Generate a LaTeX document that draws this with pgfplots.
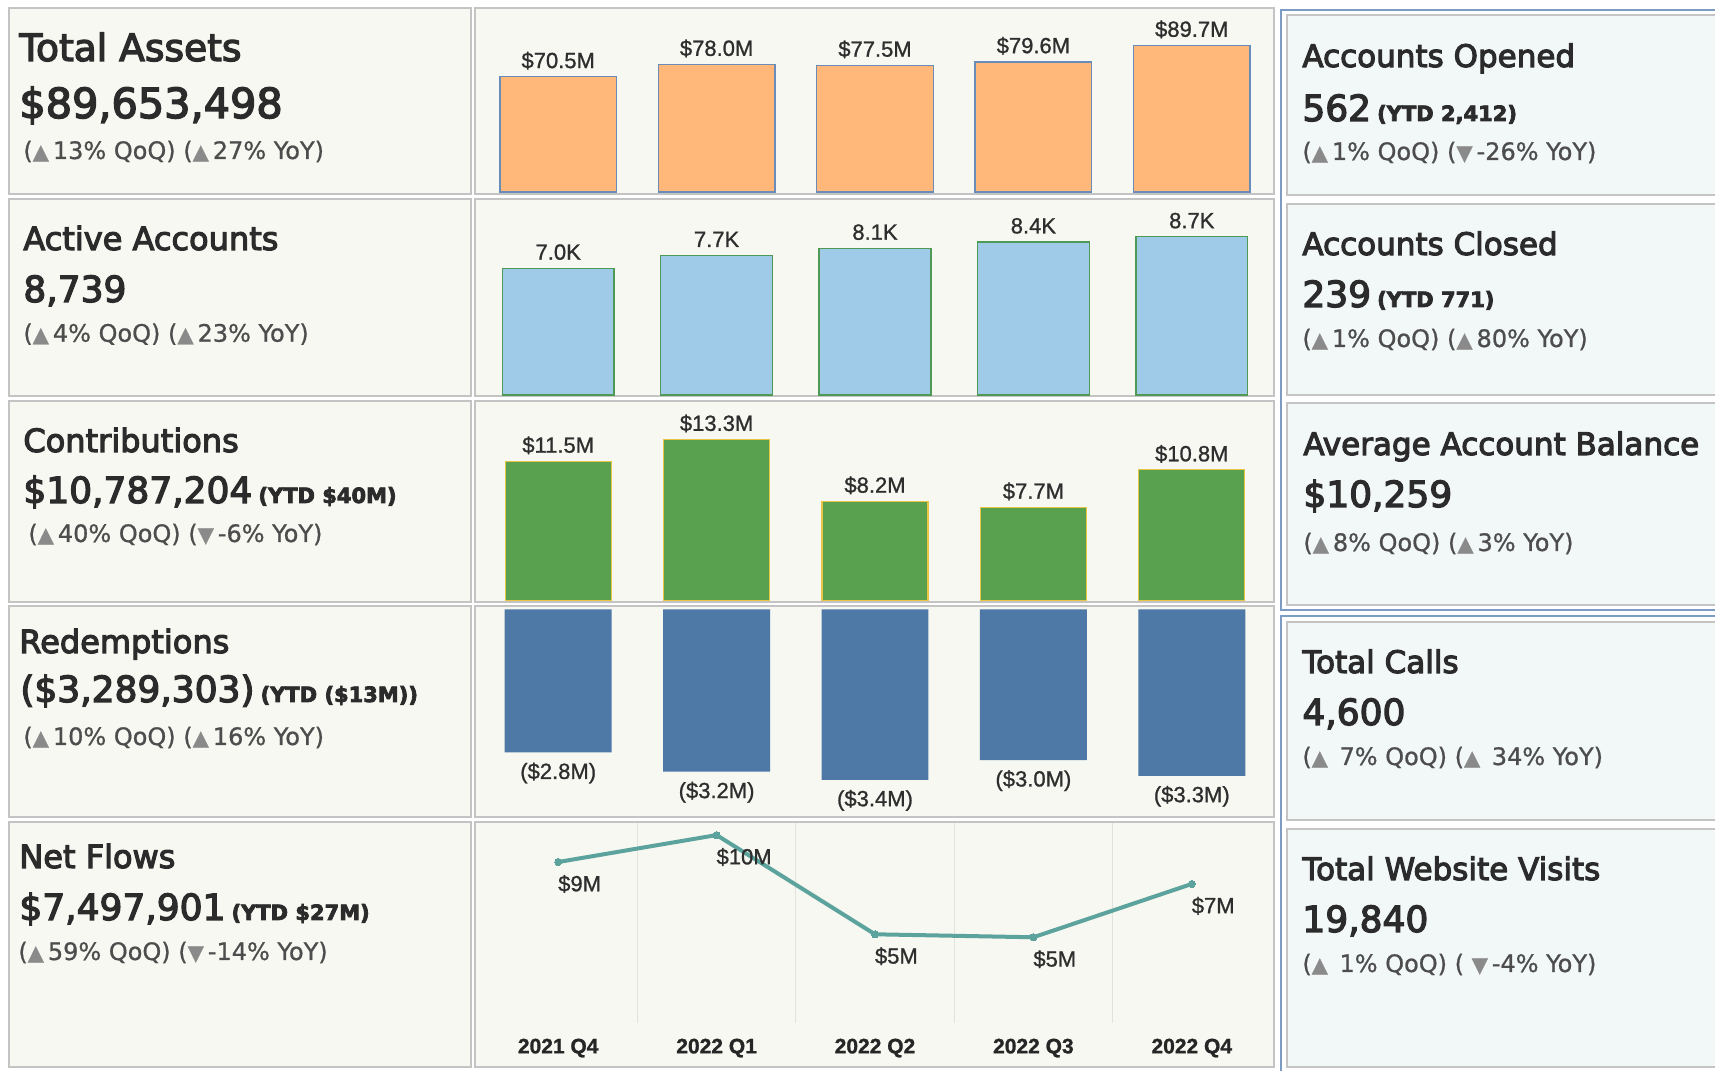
\documentclass[border=0pt]{standalone}
\usepackage{pgfplots}
\pgfplotsset{compat=1.18}
\usepackage{fontspec}
\setmainfont{DejaVu Sans}
\newfontfamily\tfont{DejaVu Sans}[FakeBold=3.5]
\newfontfamily\nfont{DejaVu Sans}[FakeBold=3.5]
\newfontfamily\cfont{DejaVu Sans}[FakeBold=0.8]
\newfontfamily\lab{Liberation Sans}[FakeBold=1]

\definecolor{leftbg}{HTML}{F6F8F1}
\definecolor{rightbg}{HTML}{F2F7F7}
\definecolor{bord}{HTML}{C4C4C4}
\definecolor{blueb}{HTML}{7D9CC4}
\definecolor{gridc}{HTML}{E2E4DC}
\definecolor{orfill}{HTML}{FFB879}
\definecolor{orline}{HTML}{6A8CB8}
\definecolor{lbfill}{HTML}{A0CBE8}
\definecolor{lbline}{HTML}{4E9A55}
\definecolor{grfill}{HTML}{59A14F}
\definecolor{grline}{HTML}{E8C547}
\definecolor{rdfill}{HTML}{4E79A7}
\definecolor{teal}{HTML}{5DA39D}
\definecolor{titc}{HTML}{2B2B2B}
\definecolor{chgc}{HTML}{4D4D4D}
\definecolor{trig}{HTML}{8A8A8A}
\definecolor{labc}{HTML}{2E2E2E}

\newcommand{\up}{{\color{trig}\fontsize{10.5pt}{10pt}\selectfont ▲}}
\newcommand{\dn}{{\color{trig}\fontsize{10.5pt}{10pt}\selectfont ▼}}
\newcommand{\ytd}[1]{\hspace{3pt}{\bfseries\fontsize{10.5pt}{12pt}\selectfont #1}}

\pgfplotsset{
  panel/.style={
    anchor=south west, scale only axis, width=396pt,
    xmin=-0.5, xmax=4.5,
    axis line style={draw=none},
    ytick=\empty, xtick=\empty,
    minor xtick={0.5,1.5,2.5,3.5},
    xminorgrids=true,
    minor grid style={draw=gridc, line width=0.6pt},
    major tick length=0pt, minor tick length=0pt,
    clip=false,
  },
  barlab/.style={
    nodes near coords,
    point meta=explicit symbolic,
    nodes near coords style={font=\lab\fontsize{11pt}{12pt}\selectfont, text=labc, inner sep=0pt, anchor=base, yshift=4.3pt},
  },
}

\begin{document}
\begin{tikzpicture}
\useasboundingbox (0,0) rectangle (857.5pt,535.5pt);
\fill[white] (0,0) rectangle (857.5pt,535.5pt);
\begin{scope}[x=0.5pt,y=-0.5pt,yshift=535.5pt]
  % left panels
  \foreach \a/\b in {8/194,199/396,401/602,606/817,822/1067}{
    \filldraw[fill=leftbg,draw=bord,line width=0.75pt] (9,\a) rectangle (471,\b);
    \filldraw[fill=leftbg,draw=bord,line width=0.75pt] (475,\a) rectangle (1274,\b);
  }
  % right groups
  \draw[blueb,line width=1.1pt] (1281,10) rectangle (1720,610);
  \draw[blueb,line width=1.1pt] (1281,616) rectangle (1720,1080);
  \foreach \a/\b in {15/195,204/395,403/605,622/820,829/1067}{
    \filldraw[fill=rightbg,draw=bord,line width=0.75pt] (1287,\a) rectangle (1722,\b);
  }
  % left texts
  \begin{scope}[every node/.style={anchor=base west, inner sep=0pt, text=titc}]
  \node[font=\tfont\fontsize{18.8pt}{20pt}\selectfont] at (19,61) {Total Assets};
  \node[font=\nfont\fontsize{20.7pt}{22pt}\selectfont] at (19,118) {\$89,653,498};
  \node[font=\cfont\fontsize{12pt}{13pt}\selectfont, text=chgc] at (23,159) {(\up\,13\% QoQ) (\up\,27\% YoY)};

  \node[font=\tfont\fontsize{16pt}{18pt}\selectfont] at (23,250) {Active Accounts};
  \node[font=\nfont\fontsize{18pt}{20pt}\selectfont] at (23,302) {8,739};
  \node[font=\cfont\fontsize{12pt}{13pt}\selectfont, text=chgc] at (23,341.7) {(\up\,4\% QoQ) (\up\,23\% YoY)};

  \node[font=\tfont\fontsize{16pt}{18pt}\selectfont] at (23,452) {Contributions};
  \node[font=\nfont\fontsize{18pt}{20pt}\selectfont] at (23,503) {\$10,787,204\ytd{(YTD \$40M)}};
  \node[font=\cfont\fontsize{12pt}{13pt}\selectfont, text=chgc] at (28,542) {(\up\,40\% QoQ) (\dn\,-6\% YoY)};

  \node[font=\tfont\fontsize{16pt}{18pt}\selectfont] at (19,653) {Redemptions};
  \node[font=\nfont\fontsize{18pt}{20pt}\selectfont] at (20,702) {(\$3,289,303)\ytd{(YTD (\$13M))}};
  \node[font=\cfont\fontsize{12pt}{13pt}\selectfont, text=chgc] at (23,745) {(\up\,10\% QoQ) (\up\,16\% YoY)};

  \node[font=\tfont\fontsize{16pt}{18pt}\selectfont] at (19,868) {Net Flows};
  \node[font=\nfont\fontsize{18pt}{20pt}\selectfont] at (19,920) {\$7,497,901\ytd{(YTD \$27M)}};
  \node[font=\cfont\fontsize{12pt}{13pt}\selectfont, text=chgc] at (18,960) {(\up\,59\% QoQ) (\dn\,-14\% YoY)};

  % right texts
  \node[font=\tfont\fontsize{15.5pt}{18pt}\selectfont] at (1302,67) {Accounts Opened};
  \node[font=\nfont\fontsize{18pt}{20pt}\selectfont] at (1302,121) {562\ytd{(YTD 2,412)}};
  \node[font=\cfont\fontsize{12pt}{13pt}\selectfont, text=chgc] at (1302,160) {(\up\,1\% QoQ) (\dn\,-26\% YoY)};

  \node[font=\tfont\fontsize{15.5pt}{18pt}\selectfont] at (1302,255) {Accounts Closed};
  \node[font=\nfont\fontsize{18pt}{20pt}\selectfont] at (1302,307) {239\ytd{(YTD 771)}};
  \node[font=\cfont\fontsize{12pt}{13pt}\selectfont, text=chgc] at (1302,347) {(\up\,1\% QoQ) (\up\,80\% YoY)};

  \node[font=\tfont\fontsize{15.5pt}{18pt}\selectfont] at (1303,455) {Average Account Balance};
  \node[font=\nfont\fontsize{18pt}{20pt}\selectfont] at (1303,507) {\$10,259};
  \node[font=\cfont\fontsize{12pt}{13pt}\selectfont, text=chgc] at (1303,551) {(\up\,8\% QoQ) (\up\,3\% YoY)};

  \node[font=\tfont\fontsize{15.5pt}{18pt}\selectfont] at (1302,673) {Total Calls};
  \node[font=\nfont\fontsize{18pt}{20pt}\selectfont] at (1302,725) {4,600};
  \node[font=\cfont\fontsize{12pt}{13pt}\selectfont, text=chgc] at (1302,765) {(\up\ \,7\% QoQ) (\up\ \,34\% YoY)};

  \node[font=\tfont\fontsize{15.5pt}{18pt}\selectfont] at (1302,880) {Total Website Visits};
  \node[font=\nfont\fontsize{18pt}{20pt}\selectfont] at (1302,932) {19,840};
  \node[font=\cfont\fontsize{12pt}{13pt}\selectfont, text=chgc] at (1302,972) {(\up\ \,1\% QoQ) ( \dn\,-4\% YoY)};
  \end{scope}
\end{scope}

% Row 1: Total Assets
\begin{axis}[panel, at={(239.5pt,439.5pt)}, height=91.5pt, ymin=0, ymax=111.9]
\addplot[ybar, bar width=0.735, fill=orfill, draw=orline, line width=0.7pt, barlab]
 coordinates {(0,70.5) [\$70.5M] (1,78.0) [\$78.0M] (2,77.5) [\$77.5M] (3,79.6) [\$79.6M] (4,89.65) [\$89.7M]};
\end{axis}

% Row 2: Active Accounts
\begin{axis}[panel, at={(239.5pt,338pt)}, height=97.5pt, ymin=0, ymax=10.77]
\addplot[ybar, bar width=0.707, fill=lbfill, draw=lbline, line width=0.7pt, barlab]
 coordinates {(0,7.0) [7.0K] (1,7.7) [7.7K] (2,8.1) [8.1K] (3,8.45) [8.4K] (4,8.739) [8.7K]};
\end{axis}

% Row 3: Contributions
\begin{axis}[panel, at={(239.5pt,235.15pt)}, height=99.35pt, ymin=0, ymax=16.39]
\addplot[ybar, bar width=0.67, fill=grfill, draw=grline, line width=0.6pt, barlab]
 coordinates {(0,11.5) [\$11.5M] (1,13.3) [\$13.3M] (2,8.2) [\$8.2M] (3,7.7) [\$7.7M] (4,10.79) [\$10.8M]};
\end{axis}

% Row 4: Redemptions
\begin{axis}[panel, at={(239.5pt,127.5pt)}, height=103.35pt, ymin=-4.085, ymax=0]
\addplot[ybar, bar width=0.675, fill=rdfill, draw=none, barlab,
  nodes near coords style={anchor=base, yshift=-17.5pt}]
 coordinates {(0,-2.83) [(\$2.8M)] (1,-3.21) [(\$3.2M)] (2,-3.37) [(\$3.4M)] (3,-2.98) [(\$3.0M)] (4,-3.29) [(\$3.3M)]};
\end{axis}

% Row 5: Net Flows
\begin{axis}[panel, at={(239.5pt,23.85pt)}, height=100.15pt, ymin=0, ymax=10.78,
  xtick={0,1,2,3,4},
  xticklabels={2021 Q4,2022 Q1,2022 Q2,2022 Q3,2022 Q4},
  xticklabel style={font=\lab\bfseries\fontsize{10.5pt}{12pt}\selectfont, text=black!85, inner sep=0pt, anchor=north, yshift=-7.5pt}]
\addplot[color=teal, line width=2pt, mark=*, mark size=1.8pt, mark options={fill=teal, line width=0pt},
  nodes near coords, point meta=explicit symbolic,
  nodes near coords style={font=\lab\fontsize{11pt}{12pt}\selectfont, text=labc, inner sep=0pt, anchor=north west, yshift=-6.5pt}]
 coordinates {(0,8.68) [\$9M] (1,10.13) [\$10M] (2,4.79) [\$5M] (3,4.63) [\$5M] (4,7.50) [\$7M]};
\end{axis}
\end{tikzpicture}
\end{document}
